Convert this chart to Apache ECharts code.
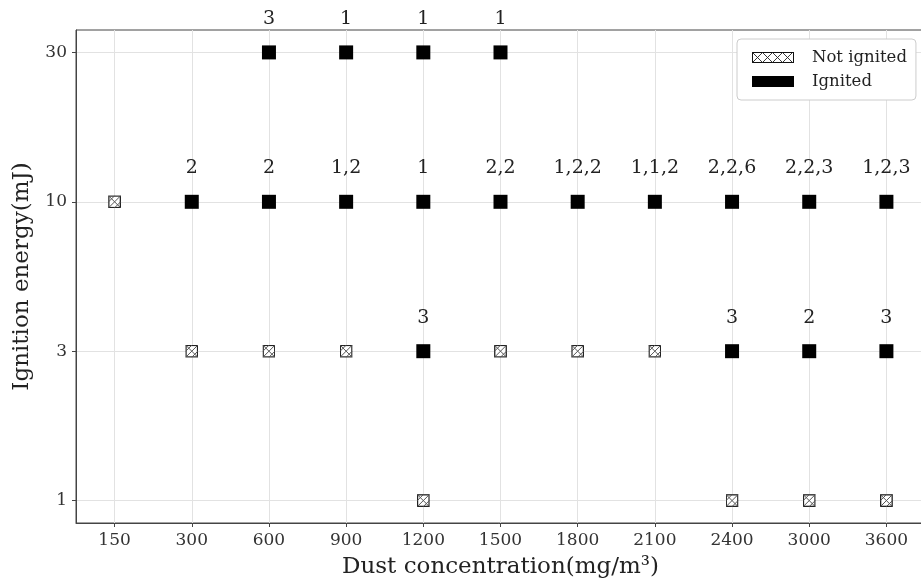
<!DOCTYPE html>
<html>
<head>
<meta charset="utf-8">
<script src="https://cdn.jsdelivr.net/npm/echarts@6/dist/echarts.min.js"></script>
<style>html,body{margin:0;padding:0;background:#fff}#c{width:921px;height:587px}</style>
</head>
<body>
<div id="c"></div>
<script>
var concentrations = ['150','300','600','900','1200','1500','1800','2100','2400','3000','3600'];
var energies = ['1','3','10','30'];
// [concentration, energy, label]
var notIgnited = [
  ['150','10',''],
  ['300','3',''],['600','3',''],['900','3',''],['1500','3',''],['1800','3',''],['2100','3',''],
  ['1200','1',''],['2400','1',''],['3000','1',''],['3600','1','']
];
var ignited = [
  ['600','30','3'],['900','30','1'],['1200','30','1'],['1500','30','1'],
  ['300','10','2'],['600','10','2'],['900','10','1,2'],['1200','10','1'],['1500','10','2,2'],
  ['1800','10','1,2,2'],['2100','10','1,1,2'],['2400','10','2,2,6'],['3000','10','2,2,3'],['3600','10','1,2,3'],
  ['1200','3','3'],['2400','3','3'],['3000','3','2'],['3600','3','3']
];

function svgUrl(s){ return 'image://data:image/svg+xml;charset=utf-8,' + encodeURIComponent(s); }
var hatchSym = svgUrl('<svg xmlns="http://www.w3.org/2000/svg" width="26" height="26" viewBox="0 0 26 26">' +
  '<rect x="1.5" y="1.5" width="23" height="23" fill="#fff" stroke="#222" stroke-width="2.6"/>' +
  '<path d="M1 1 L25 25 M25 1 L1 25 M1 13 L13 1 M13 25 L25 13" stroke="#555" stroke-width="2" fill="none"/>' +
  '</svg>');
var hatchLegend = svgUrl('<svg xmlns="http://www.w3.org/2000/svg" width="84" height="22" viewBox="0 0 84 22">' +
  '<rect x="1" y="1" width="82" height="20" fill="#fff" stroke="#111" stroke-width="2"/>' +
  '<path d="M1 1 L21 21 M21 1 L1 21 M21 1 L41 21 M41 1 L21 21 M41 1 L61 21 M61 1 L41 21 M61 1 L81 21 M81 1 L61 21" stroke="#222" stroke-width="1.8" fill="none"/>' +
  '</svg>');

function toData(arr){
  return arr.map(function(d){ return {value:[concentrations.indexOf(d[0]), energies.indexOf(d[1])], label:{formatter:d[2]}}; });
}
var xTicks = concentrations.map(function(c, i){ return i; });
var yTicks = energies.map(function(e, i){ return i; });

var FONT = 'DejaVu Serif';
var chart = echarts.init(document.getElementById('c'), null, {renderer:'canvas'});
chart.setOption({
  animation:false,
  backgroundColor:'#fff',
  grid:{left:76, right:-4, top:30, bottom:64, outerBoundsMode:'none', containLabel:false,
        show:true, borderColor:'#444', borderWidth:1, backgroundColor:'transparent'},
  xAxis:{
    type:'value', min:-0.5, max:10.5,
    name:'Dust concentration(mg/m³)', nameLocation:'middle', nameGap:33,
    nameTextStyle:{fontFamily:FONT, fontSize:23, color:'#222'},
    axisLine:{show:true, onZero:false, lineStyle:{color:'#444'}},
    axisTick:{show:true, length:4, lineStyle:{color:'#444'}, customValues:xTicks},
    axisLabel:{fontFamily:FONT, fontSize:17, color:'#333', margin:9, customValues:xTicks,
      formatter:function(v){ return concentrations[Math.round(v)]; }},
    splitLine:{show:true, lineStyle:{color:'#e2e2e2'}}
  },
  yAxis:{
    type:'value', min:-0.15, max:3.15,
    name:'Ignition energy(mJ)', nameLocation:'middle', nameGap:42,
    nameTextStyle:{fontFamily:FONT, fontSize:23, color:'#222'},
    axisLine:{show:true, onZero:false, lineStyle:{color:'#444'}},
    axisTick:{show:true, length:4, lineStyle:{color:'#444'}, customValues:yTicks},
    axisLabel:{fontFamily:FONT, fontSize:17, color:'#333', margin:9, customValues:yTicks,
      formatter:function(v){ return energies[Math.round(v)]; }},
    splitLine:{show:true, lineStyle:{color:'#e2e2e2'}}
  },
  legend:{
    orient:'vertical', left:737, top:39,
    padding:[10,9,10,15], itemGap:7, itemWidth:42, itemHeight:11,
    borderColor:'#ccc', borderWidth:1, borderRadius:4, backgroundColor:'#fff',
    textStyle:{fontFamily:FONT, fontSize:16.5, color:'#222', padding:[0,0,0,13]},
    data:[{name:'Not ignited', icon:hatchLegend}, {name:'Ignited', icon:'rect', itemStyle:{color:'#000', opacity:1}}]
  },
  series:[
    {
      name:'Not ignited', type:'scatter', symbol:hatchSym, symbolSize:13,
      itemStyle:{color:'#fff', opacity:1},
      data:toData(notIgnited),
      label:{show:false}
    },
    {
      name:'Ignited', type:'scatter', symbol:'rect', symbolSize:14,
      itemStyle:{color:'#000', opacity:1},
      data:toData(ignited),
      label:{show:true, position:'top', distance:17, fontFamily:FONT, fontSize:19, color:'#222'}
    }
  ]
});
</script>
</body>
</html>
